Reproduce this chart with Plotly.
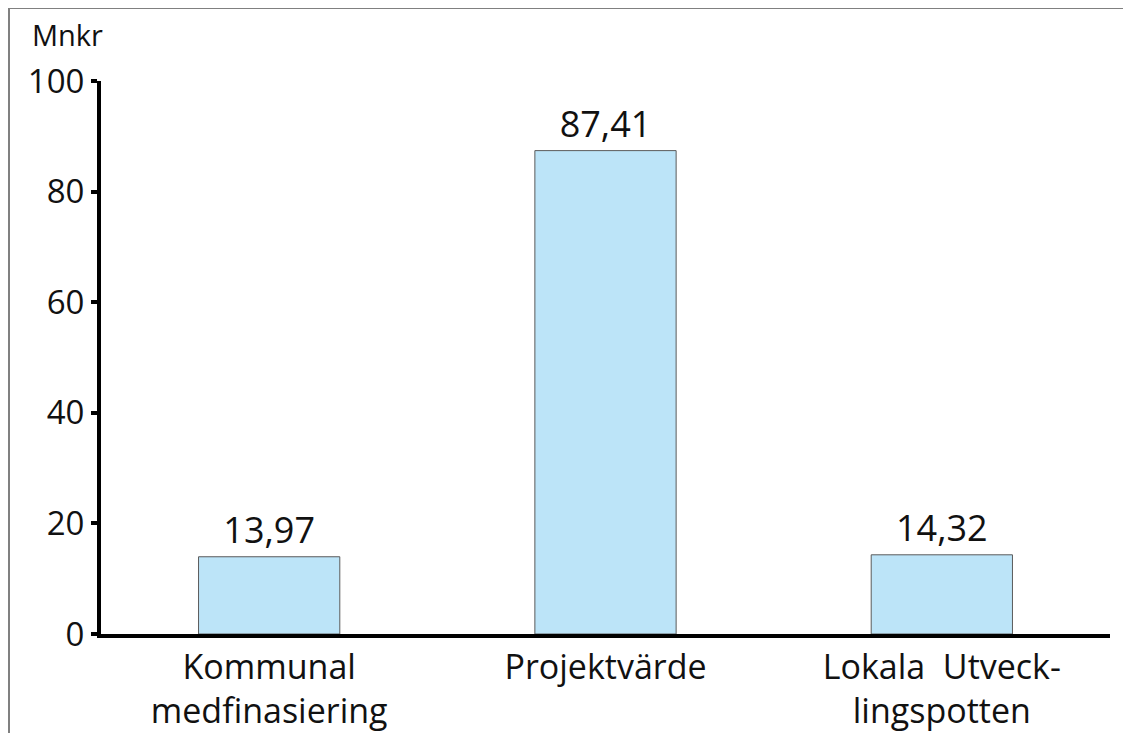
import plotly.graph_objects as go

categories = ["Kommunal<br>medfinasiering", "Projektvärde", "Lokala  Utveck-<br>lingspotten"]
values = [13.97, 87.41, 14.32]
y_ticks = [0, 20, 40, 60, 80, 100]

# page is drawn with a small body offset, so the figure is a bit smaller
W, H = 1123, 725
L, R, T, B = 93, 21, 73, 99
pw, ph = W - L - R, H - T - B

fig = go.Figure(
    go.Bar(
        x=categories,
        y=values,
        marker=dict(color="#bce4f8", line=dict(color="#5a5a5a", width=1)),
        texttemplate="%{y:.2f}",
        textposition="outside",
        textfont=dict(size=36, color="#111", family="Open Sans"),
        cliponaxis=False,
    )
)

fig.update_layout(
    width=W,
    height=H,
    margin=dict(l=L, r=R, t=T, b=B),
    plot_bgcolor="white",
    paper_bgcolor="white",
    separators=",.",
    font=dict(family="Open Sans, Lato, sans-serif", color="#111"),
    bargap=0.58,
    showlegend=False,
)

fig.update_yaxes(
    range=[0, 100],
    tickvals=y_ticks,
    showgrid=False,
    zeroline=False,
    showline=True,
    linecolor="black",
    linewidth=4,
    ticks="outside",
    ticklen=6,
    tickwidth=4,
    tickcolor="black",
    tickfont=dict(size=33),
    automargin=False,
)
fig.update_xaxes(
    showgrid=False,
    showline=True,
    linecolor="black",
    linewidth=4,
    ticks="",
    tickfont=dict(size=34),
    automargin=False,
)

# unit label above the axis
fig.add_annotation(
    x=(22 - L) / pw, y=1 + (T - 26) / ph, xref="paper", yref="paper",
    text="Mnkr", showarrow=False, xanchor="left", yanchor="middle",
    font=dict(size=29),
)

# thin grey frame on top and left edges
bx = (1 - L) / pw
ty = 1 + (T - 0) / ph
by = -(B) / ph
fig.add_shape(type="line", xref="paper", yref="paper", x0=bx, x1=1 + R / pw, y0=ty, y1=ty,
              line=dict(color="#808080", width=2))
fig.add_shape(type="line", xref="paper", yref="paper", x0=bx, x1=bx, y0=ty, y1=by,
              line=dict(color="#808080", width=2))

fig.write_html("out.html")
